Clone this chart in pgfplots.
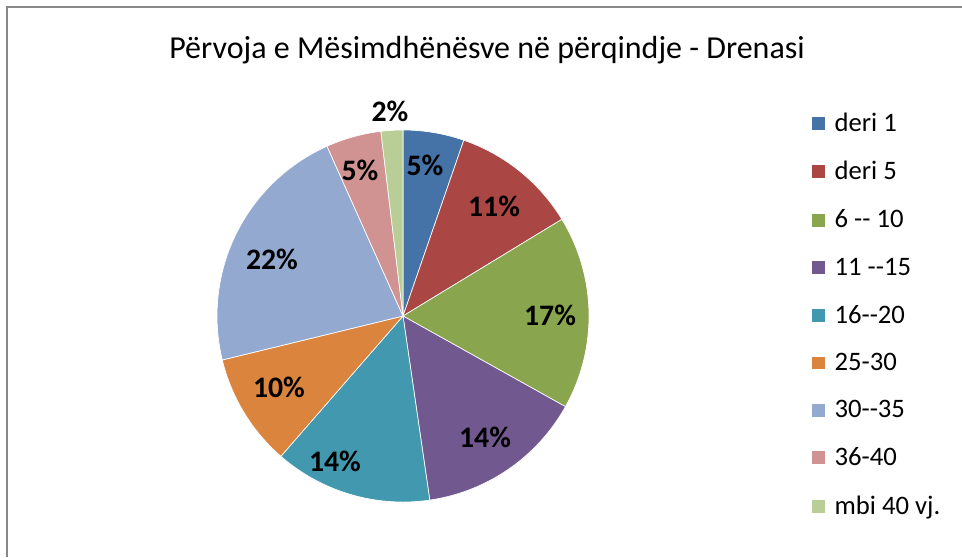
\documentclass[border=0pt]{standalone}
\usepackage{pgfplots}
\pgfplotsset{compat=1.18}
\usepackage{fontspec}
\setmainfont{Carlito}
\definecolor{c1}{HTML}{4572A7}
\definecolor{c2}{HTML}{AA4643}
\definecolor{c3}{HTML}{89A54E}
\definecolor{c4}{HTML}{71588F}
\definecolor{c5}{HTML}{4198AF}
\definecolor{c6}{HTML}{DB843D}
\definecolor{c7}{HTML}{93A9CF}
\definecolor{c8}{HTML}{D19392}
\definecolor{c9}{HTML}{B9CD96}
\definecolor{frame}{HTML}{888888}
% slice: colour, cumulative start (%), cumulative end (%), legend text
\newcommand{\slice}[4]{%
  \addplot[fill=#1, draw=white, line width=0.5pt, domain=90-3.6*#3:90-3.6*#2, samples=90, variable=\t]
    ({403+186*cos(\t)}, {316-186*sin(\t)}) -- (axis cs:403,316) -- cycle;
  \addlegendentry{#4}
}
\newcommand{\lbl}{\bfseries\fontsize{22.3}{26}\selectfont}
\begin{document}
\begin{tikzpicture}
\begin{axis}[
  x=0.75pt, y=0.75pt, scale only axis,
  xmin=0, xmax=962, ymin=0, ymax=557, y dir=reverse,
  hide axis, clip=false,
  legend style={draw=none, fill=none, at={(axis cs:811,110)}, anchor=north west,
    font=\fontsize{20}{24}\selectfont, row sep=17pt, inner sep=0pt,
    /tikz/every odd column/.append style={column sep=4.5pt}},
  legend cell align=left,
  legend image code/.code={\fill[#1] (0pt,-5.2pt) rectangle (10.5pt,5.2pt);},
]
% values in percent: 5.3, 11.0, 16.8, 14.6, 13.7, 9.8, 22.1, 4.8, 1.9
\slice{c1}{0}{5.3}{deri 1}
\slice{c2}{5.3}{16.3}{deri 5}
\slice{c3}{16.3}{33.1}{6 -{}- 10}
\slice{c4}{33.1}{47.7}{11 -{}-15}
\slice{c5}{47.7}{61.4}{16-{}-20}
\slice{c6}{61.4}{71.2}{25-30}
\slice{c7}{71.2}{93.3}{30-{}-35}
\slice{c8}{93.3}{98.1}{36-40}
\slice{c9}{98.1}{100}{mbi 40 vj.}
\draw[frame, line width=1.5pt] (axis cs:6.5,557) -- (axis cs:6.5,6.5) -- (axis cs:962,6.5);
\node[font=\fontsize{24}{29}\selectfont] at (axis cs:487,50) {Përvoja e Mësimdhënësve në përqindje - Drenasi};
\node[font=\lbl] at (axis cs:425,165) {5\%};
\node[font=\lbl] at (axis cs:494,206) {11\%};
\node[font=\lbl] at (axis cs:550,315) {17\%};
\node[font=\lbl] at (axis cs:485,437) {14\%};
\node[font=\lbl] at (axis cs:335,461) {14\%};
\node[font=\lbl] at (axis cs:279,387) {10\%};
\node[font=\lbl] at (axis cs:272,259) {22\%};
\node[font=\lbl] at (axis cs:360,170) {5\%};
\node[font=\lbl] at (axis cs:390,111) {2\%};
\end{axis}
\pgfresetboundingbox
\useasboundingbox (0,0) rectangle (721.5pt,417.75pt);
\end{tikzpicture}
\end{document}
